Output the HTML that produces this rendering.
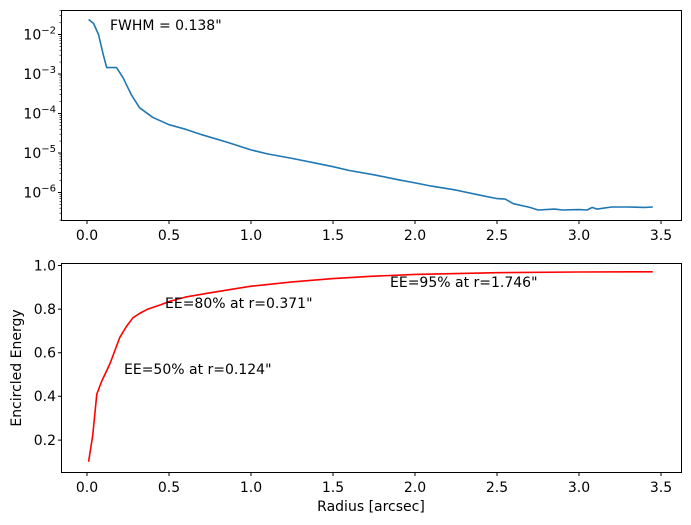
<!DOCTYPE html>
<html><head><meta charset="utf-8"><style>
body{margin:0;background:#fff}
svg{display:block;font-family:"DejaVu Sans","Liberation Sans",sans-serif;font-size:14px;fill:#000}
</style></head><body>
<svg width="691" height="525" xmlns="http://www.w3.org/2000/svg">
<rect width="691" height="525" fill="#fff"/>
<g stroke="#000" stroke-width="1">
<path d="M87,220.5v3.5M169,220.5v3.5M251,220.5v3.5M333,220.5v3.5M415,220.5v3.5M497,220.5v3.5M579,220.5v3.5M661,220.5v3.5"/>
<path d="M87,472.5v3.5M169,472.5v3.5M251,472.5v3.5M333,472.5v3.5M415,472.5v3.5M497,472.5v3.5M579,472.5v3.5M661,472.5v3.5"/>
<path d="M58,34.5h3.5M58,74h3.5M58,113.5h3.5M58,153h3.5M58,192.5h3.5"/>
<path d="M58,440.1h3.5M58,396.3h3.5M58,352.7h3.5M58,309.1h3.5M58,265.5h3.5"/>
</g>
<path stroke="#000" stroke-width="0.6" d="M59.5,22.6h2M59.5,15.7h2M59.5,10.7h2
M59.5,62.1h2M59.5,55.2h2M59.5,50.2h2M59.5,46.4h2M59.5,43.3h2M59.5,40.6h2M59.5,38.3h2M59.5,36.3h2
M59.5,101.6h2M59.5,94.7h2M59.5,89.7h2M59.5,85.9h2M59.5,82.8h2M59.5,80.1h2M59.5,77.8h2M59.5,75.8h2
M59.5,141.1h2M59.5,134.2h2M59.5,129.2h2M59.5,125.4h2M59.5,122.3h2M59.5,119.6h2M59.5,117.3h2M59.5,115.3h2
M59.5,180.6h2M59.5,173.7h2M59.5,168.7h2M59.5,164.9h2M59.5,161.8h2M59.5,159.1h2M59.5,156.8h2M59.5,154.8h2
M59.5,220.1h2M59.5,213.2h2M59.5,208.2h2M59.5,204.4h2M59.5,201.3h2M59.5,198.6h2M59.5,196.3h2M59.5,194.3h2"/>
<g text-anchor="middle">
<text x="87" y="240">0.0</text><text x="169" y="240">0.5</text><text x="251" y="240">1.0</text><text x="333" y="240">1.5</text><text x="415" y="240">2.0</text><text x="497" y="240">2.5</text><text x="579" y="240">3.0</text><text x="661" y="240">3.5</text>
<text x="87" y="492">0.0</text><text x="169" y="492">0.5</text><text x="251" y="492">1.0</text><text x="333" y="492">1.5</text><text x="415" y="492">2.0</text><text x="497" y="492">2.5</text><text x="579" y="492">3.0</text><text x="661" y="492">3.5</text>
</g>
<g text-anchor="end">
<text x="56" y="39.5">10<tspan dy="-6" font-size="10">−2</tspan></text>
<text x="56" y="79">10<tspan dy="-6" font-size="10">−3</tspan></text>
<text x="56" y="118.5">10<tspan dy="-6" font-size="10">−4</tspan></text>
<text x="56" y="158">10<tspan dy="-6" font-size="10">−5</tspan></text>
<text x="56" y="197.5">10<tspan dy="-6" font-size="10">−6</tspan></text>
<text x="56" y="445">0.2</text><text x="56" y="401">0.4</text><text x="56" y="357.5">0.6</text><text x="56" y="314">0.8</text><text x="56" y="270.5">1.0</text>
</g>
<polyline fill="none" stroke="#1f77b4" stroke-width="1.6" stroke-linejoin="round" points="88.6,19.5 93.6,23.5 98.5,34.5 103.4,55.2 106.7,67.6 116.5,67.6 123.1,77.8 131.3,94.7 139.5,107.7 152.6,117.3 169,124.7 185.4,129.2 201.8,134.7 226.4,142 251,149.9 267.4,153.9 292,158.4 316.6,163.3 333,166.7 349.4,170.5 374,174.8 398.6,179.8 415,182.9 431.4,186.1 456,190.1 480.6,195.3 497,198.6 505.2,199.1 513.4,203.7 529.8,207.4 538,210 554.4,209.1 562.6,210 579,209.6 587.2,210 592.1,207.4 597,209.1 611.8,207 628.2,207 644.6,207.4 652.8,207"/>
<polyline fill="none" stroke="#ff0000" stroke-width="1.6" stroke-linejoin="round" points="88.6,461.7 92.7,435.5 96.8,394.1 101.8,381 110,363.6 119.8,337.4 126.4,326.5 132.9,317.8 139.5,313.5 147.8,309.1 160.8,304.7 169,301.5 185.4,297.1 210,292.8 251,286.2 292,281.9 333,278.6 373.3,276.2 415,274.4 497,272.7 579,272 652.8,271.8"/>
<rect x="61.5" y="10.5" width="620" height="210" fill="none" stroke="#000"/>
<rect x="61.5" y="263.5" width="620" height="209" fill="none" stroke="#000"/>
<text x="110" y="30">FWHM = 0.138"</text>
<text x="390" y="287">EE=95% at r=1.746"</text>
<text x="165" y="308">EE=80% at r=0.371"</text>
<text x="124" y="374">EE=50% at r=0.124"</text>
<text x="371" y="511" text-anchor="middle">Radius [arcsec]</text>
<text transform="translate(21,368) rotate(-90)" text-anchor="middle">Encircled Energy</text>
</svg>
</body></html>
